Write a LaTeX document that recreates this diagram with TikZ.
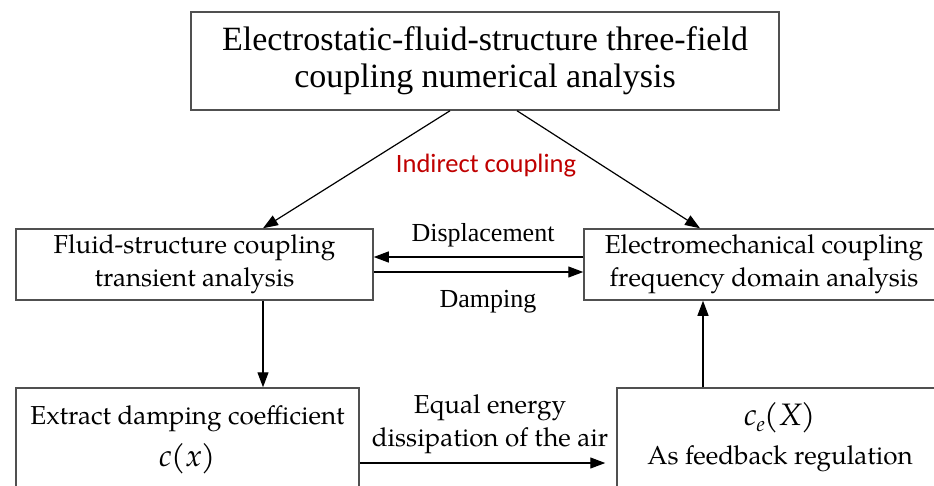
\documentclass[tikz,border=0pt]{standalone}
\usepackage{fontspec}
\setmainfont{TeX Gyre Pagella}
\newfontfamily\timesf{Liberation Serif}
\newfontfamily\calib{Carlito}
\usetikzlibrary{arrows.meta}
\definecolor{boxcol}{RGB}{80,80,80}
\definecolor{redtxt}{RGB}{192,0,0}
\begin{document}
\begin{tikzpicture}[x=1pt,y=-1pt,
  box/.style={draw=boxcol,line width=1.5pt,rectangle,inner sep=0pt},
  arr/.style={-{Triangle[length=15pt,width=11pt]},line width=1.2pt,black},
  txt/.style={inner sep=0pt,align=center,font=\fontsize{26}{33}\selectfont},
  mtxt/.style={inner sep=0pt,align=center,font=\fontsize{31}{35}\selectfont},
  ttxt/.style={inner sep=0pt,align=center,font=\timesf\fontsize{26}{28}\selectfont}]
\useasboundingbox (0,0) rectangle (934,485);
\clip (0,0) rectangle (934,485);
\fill[white] (0,0) rectangle (934,485);
\node[box,minimum width=588pt,minimum height=98pt,align=center,font=\timesf\fontsize{34}{37}\selectfont] (top) at (485,61) {Electrostatic-fluid-structure three-field\\coupling numerical analysis};
\node[box,minimum width=357pt,minimum height=71pt,txt] (fluid) at (194.5,264.5) {Fluid-structure coupling\\transient analysis};
\node[box,minimum width=360pt,minimum height=71pt,txt] (em) at (764,264.5) {Electromechanical coupling\\frequency domain analysis};
\node[box,minimum width=343pt,minimum height=132pt] (extract) at (187.5,454) {};
\node[box,minimum width=328pt,minimum height=132pt] (ce) at (781,454) {};
\node[txt] (extxt) at (187.5,419) {Extract damping coefficient};
\node[mtxt] (cx) at (187.5,459) {\textit{c}(\textit{x})};
\node[mtxt] (cex) at (780,418) {\textit{c}\raisebox{-6pt}{\fontsize{21}{21}\selectfont\textit{e}}(\textit{X})};
\node[txt] (fb) at (780,459) {As feedback regulation};
\node[inner sep=0pt,text=redtxt,font=\calib\fontsize{26.5}{30}\selectfont] (ind) at (486,166) {Indirect coupling};
\node[ttxt] (disp) at (483,235) {Displacement};
\node[ttxt] (damp) at (488,302) {Damping};
\node[txt] (eq) at (490,424) {Equal energy\\dissipation of the air};
\draw[arr] ([xshift=-35pt]top.south) -- ([xshift=68.5pt]fluid.north);
\draw[arr] ([xshift=32pt]top.south) -- ([xshift=-64pt]em.north);
\draw[arr] ([yshift=7.5pt]em.west) -- ([yshift=7.5pt]fluid.east);
\draw[arr] ([yshift=-7.5pt]fluid.east) -- ([yshift=-7.5pt]em.west);
\draw[arr] ([xshift=68.5pt]fluid.south) -- ([xshift=68.5pt]fluid.south |- extract.north);
\draw[arr,shorten >=11pt] ([yshift=-9pt]extract.east) -- ([yshift=-9pt]extract.east -| ce.west);
\draw[arr] ([xshift=-78pt]ce.north) -- ([xshift=-78pt]ce.north |- em.south);
\end{tikzpicture}
\end{document}
